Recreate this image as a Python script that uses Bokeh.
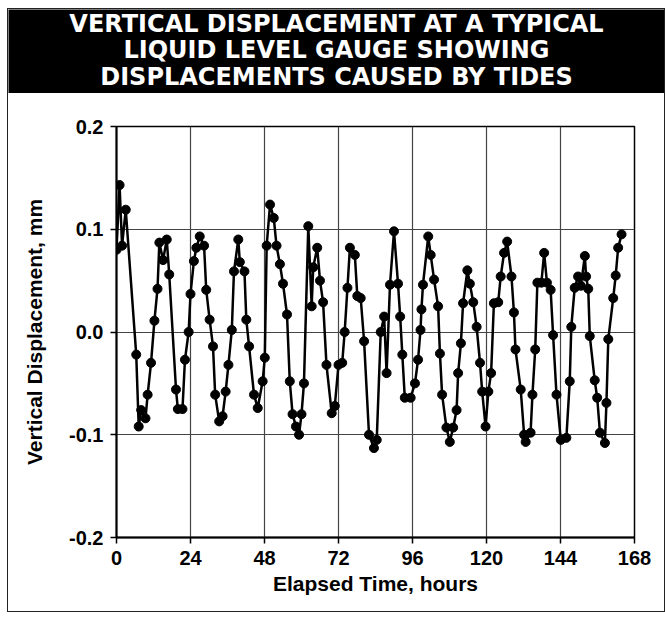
from bokeh.plotting import figure
from bokeh.layouts import column
from bokeh.models import ColumnDataSource, FixedTicker, Range1d
from bokeh.core.properties import value
from bokeh.embed import file_html
from bokeh.resources import INLINE

# ---- data ----
hours = [0.0, 1.0, 1.8, 3.0, 6.4, 7.2, 8.0, 9.4, 10.1, 11.2, 12.3, 13.3, 13.9, 15.1, 16.3, 17.1,
         19.3, 19.9, 21.4, 22.2, 23.4, 24.0, 25.1, 25.9, 27.0, 28.4, 29.1, 30.2, 31.3, 32.0,
         33.3, 34.4, 35.4, 36.3, 37.4, 38.1, 39.5, 40.0, 41.5, 42.1, 43.0, 44.6, 45.8, 47.4,
         48.1, 48.7, 49.8, 51.0, 51.9, 53.0, 54.0, 55.3, 56.2, 57.1, 58.2, 59.2, 60.0, 60.8,
         62.2, 63.3, 63.8, 65.1, 66.0, 67.0, 68.1, 69.8, 70.8, 72.0, 73.2, 74.0, 74.9, 75.7,
         77.3, 78.1, 79.2, 80.3, 81.9, 83.5, 84.4, 85.7, 86.8, 87.6, 88.7, 90.0, 91.3, 92.0,
         92.7, 93.5, 95.4, 96.8, 97.8, 98.6, 98.9, 99.4, 101.1, 101.9, 103.0, 104.3, 104.9,
         105.6, 107.0, 108.1, 109.2, 110.3, 110.8, 111.7, 112.4, 113.8, 114.6, 115.7, 116.8,
         117.9, 118.6, 119.7, 120.6, 121.5, 122.4, 123.8, 124.6, 125.7, 126.7, 128.1, 128.9,
         129.4, 131.1, 132.2, 132.7, 134.3, 134.9, 135.8, 136.5, 137.8, 138.7, 139.6, 140.8,
         141.6, 142.7, 144.1, 145.9, 147.0, 147.5, 148.6, 149.7, 150.6, 151.9, 152.3, 153.0,
         153.5, 155.1, 155.9, 156.8, 158.4, 158.9, 159.5, 161.1, 161.9, 162.7, 163.8]
displacement_mm = [0.080, 0.143, 0.084, 0.119, -0.022, -0.092, -0.076, -0.084, -0.061, -0.030,
                   0.011, 0.042, 0.087, 0.070, 0.090, 0.056, -0.056, -0.075, -0.075, -0.027,
                   0.000, 0.037, 0.069, 0.082, 0.093, 0.084, 0.041, 0.012, -0.014, -0.061,
                   -0.087, -0.082, -0.058, -0.032, 0.002, 0.059, 0.090, 0.068, 0.059, 0.012,
                   -0.014, -0.061, -0.074, -0.048, -0.025, 0.084, 0.124, 0.111, 0.084, 0.066,
                   0.047, 0.017, -0.048, -0.080, -0.092, -0.100, -0.080, -0.050, 0.103, 0.025,
                   0.063, 0.082, 0.050, 0.029, -0.032, -0.079, -0.072, -0.032, -0.030, 0.000,
                   0.043, 0.082, 0.075, 0.035, 0.033, -0.009, -0.100, -0.113, -0.105, 0.000,
                   0.015, -0.040, 0.046, 0.098, 0.047, 0.015, -0.022, -0.064, -0.064, -0.050,
                   -0.027, 0.002, 0.022, 0.046, 0.093, 0.075, 0.051, 0.025, -0.021, -0.061,
                   -0.093, -0.107, -0.093, -0.076, -0.040, -0.011, 0.028, 0.060, 0.047, 0.029,
                   0.005, -0.030, -0.058, -0.092, -0.058, -0.040, 0.028, 0.029, 0.054, 0.077,
                   0.088, 0.054, 0.019, -0.017, -0.056, -0.100, -0.107, -0.098, -0.061, -0.017,
                   0.048, 0.048, 0.077, 0.048, 0.041, -0.003, -0.061, -0.105, -0.103, -0.048,
                   0.005, 0.043, 0.054, 0.045, 0.074, 0.054, 0.042, -0.004, -0.047, -0.064,
                   -0.098, -0.108, -0.069, -0.007, 0.033, 0.055, 0.082, 0.095]
x_ticks = [0, 24, 48, 72, 96, 120, 144, 168]
y_ticks = [-0.2, -0.1, 0.0, 0.1, 0.2]
y_tick_labels = ["-0.2", "-0.1", "0.0", "0.1", "0.2"]
title_lines = ["VERTICAL DISPLACEMENT AT A TYPICAL",
               "LIQUID LEVEL GAUGE SHOWING",
               "DISPLACEMENTS CAUSED BY TIDES"]
x_title = "Elapsed Time, hours"
y_title = "Vertical Displacement, mm"

W = 656
AXIS_FONT = "Liberation Sans"

# ---- title band ----
head = figure(width=W, height=84, x_range=Range1d(0, 1), y_range=Range1d(0, 1),
              toolbar_location=None, output_backend="svg",
              x_axis_location=None, y_axis_location=None,
              min_border_left=0, min_border_right=0, min_border_top=0, min_border_bottom=0)
head.frame_align = False
head.grid.visible = False
head.outline_line_color = None
head.background_fill_color = "black"
head.border_fill_color = "black"
head.text(x=[0.5, 0.5, 0.5], y=[0.83, 0.52, 0.2], text=title_lines,
          text_align="center", text_baseline="middle", text_color="white",
          text_font=value("DejaVu Sans"), text_font_style="bold", text_font_size="24px")

# ---- chart ----
p = figure(width=W, height=518, x_range=Range1d(0, 168), y_range=Range1d(-0.2, 0.2),
           toolbar_location=None, output_backend="svg",
           min_border_left=108, min_border_right=30, min_border_top=33, min_border_bottom=74)
p.frame_align = False
p.background_fill_color = "white"
p.border_fill_color = "white"
p.outline_line_color = "black"
p.outline_line_width = 1.5

p.xaxis.ticker = FixedTicker(ticks=x_ticks)
p.yaxis.ticker = FixedTicker(ticks=y_ticks)
p.yaxis.major_label_overrides = {t: s for t, s in zip(y_ticks, y_tick_labels)}
p.xaxis.axis_label = x_title
p.yaxis.axis_label = y_title

for ax in (p.xaxis, p.yaxis):
    ax.axis_line_color = "black"
    ax.axis_line_width = 2
    ax.major_tick_line_color = "black"
    ax.major_tick_line_width = 1.5
    ax.major_tick_out = 6
    ax.major_tick_in = 0
    ax.minor_tick_line_color = None
    ax.major_label_text_font = AXIS_FONT
    ax.major_label_text_font_style = "bold"
    ax.major_label_text_font_size = "20px"
    ax.major_label_text_color = "black"
    ax.axis_label_text_font = AXIS_FONT
    ax.axis_label_text_font_style = "bold"
    ax.axis_label_text_font_size = "21px"
    ax.axis_label_text_color = "black"

p.xaxis.major_label_standoff = 7
p.xaxis.axis_label_standoff = 4
p.yaxis.major_label_standoff = 7
p.yaxis.axis_label_standoff = 20

p.grid.grid_line_color = "#444444"
p.grid.grid_line_width = 1.2
p.xgrid.ticker = FixedTicker(ticks=x_ticks)
p.ygrid.ticker = FixedTicker(ticks=y_ticks)

src = ColumnDataSource(dict(x=hours, y=displacement_mm))
p.line("x", "y", source=src, line_color="black", line_width=2.5)
p.scatter("x", "y", source=src, size=9, fill_color="black", line_color="black")

layout = column(head, p, spacing=0,
                styles={"border": "1px solid #222", "margin-left": "7px", "margin-top": "8px"})

open("out.html", "w").write(file_html(layout, INLINE))
